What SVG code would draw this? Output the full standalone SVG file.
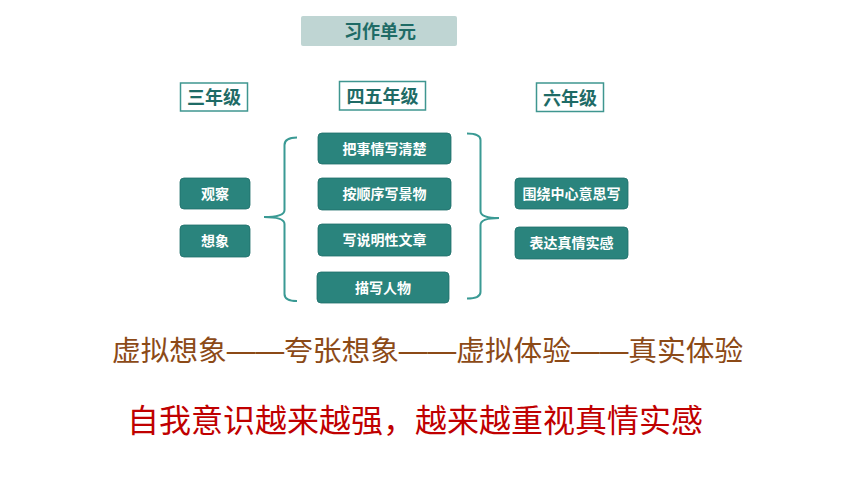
<svg xmlns="http://www.w3.org/2000/svg" width="860" height="484" viewBox="0 0 860 484">
<style>
.box{fill:#2a847d;stroke:#1f6f69;stroke-width:0.8}
.bt{fill:#ffffff;font-family:"Noto Sans CJK SC",sans-serif;font-weight:bold;font-size:14px;text-anchor:middle}
.lbl{fill:#ffffff;stroke:#3f9690;stroke-width:1.5}
.lt{fill:#1e6b66;font-family:"Noto Sans CJK SC",sans-serif;font-weight:bold;font-size:18px;text-anchor:middle}
.brace{fill:none;stroke:#3a9a94;stroke-width:2}
</style>
<rect width="860" height="484" fill="#ffffff"/>
<g id="title">
<rect x="301" y="16" width="156" height="30" rx="2" fill="#bfd5d3"/>
<text class="lt" x="380" y="38">习作单元</text>
</g>
<g id="grade3">
<rect class="lbl" x="180.5" y="83" width="67" height="28"/>
<text class="lt" x="214" y="104">三年级</text>
</g>
<g id="grade45">
<rect class="lbl" x="339.5" y="81.5" width="86" height="28.5"/>
<text class="lt" x="382.5" y="103">四五年级</text>
</g>
<g id="grade6">
<rect class="lbl" x="536.5" y="83" width="67" height="28.5"/>
<text class="lt" x="570" y="104.5">六年级</text>
</g>
<g id="n-guancha">
<rect class="box" x="180" y="178" width="70" height="31" rx="4"/>
<text class="bt" x="215" y="198.5">观察</text>
</g>
<g id="n-xiangxiang">
<rect class="box" x="180" y="225" width="70" height="32" rx="4"/>
<text class="bt" x="215" y="246">想象</text>
</g>
<g id="n-bashi">
<rect class="box" x="318" y="133" width="133" height="31" rx="4"/>
<text class="bt" x="384.5" y="153.5">把事情写清楚</text>
</g>
<g id="n-anshunxu">
<rect class="box" x="318" y="178" width="133" height="32" rx="4"/>
<text class="bt" x="384.5" y="199">按顺序写景物</text>
</g>
<g id="n-shuoming">
<rect class="box" x="318" y="224" width="133" height="32" rx="4"/>
<text class="bt" x="384.5" y="245">写说明性文章</text>
</g>
<g id="n-miaoxie">
<rect class="box" x="317" y="272" width="132" height="31" rx="4"/>
<text class="bt" x="383" y="292.5">描写人物</text>
</g>
<g id="n-weirao">
<rect class="box" x="515" y="178" width="113" height="31" rx="4"/>
<text class="bt" x="571.5" y="198.5">围绕中心意思写</text>
</g>
<g id="n-biaoda">
<rect class="box" x="515" y="227" width="113" height="32" rx="4"/>
<text class="bt" x="571.5" y="248">表达真情实感</text>
</g>
<g id="connectors">
<path class="brace" d="M297,137.5 Q284.5,137.5 284.5,145 L284.5,210 Q284.5,217 264,217 Q284.5,217 284.5,224 L284.5,294 Q284.5,301 297,301"/>
<path class="brace" d="M467,133.5 Q480.5,133.5 480.5,140 L480.5,211 Q480.5,218 499,218 Q480.5,218 480.5,225 L480.5,292 Q480.5,298.5 467,298.5"/>
</g>
<g id="notes">
<text x="112" y="361" font-family="'Liberation Sans', 'Noto Sans CJK SC', sans-serif" font-size="28.7" fill="#8c4a17">虚拟想象——夸张想象——虚拟体验——真实体验</text>
<text x="127" y="432" font-family="'Noto Sans CJK SC', sans-serif" font-size="32" fill="#c00000">自我意识越来越强，越来越重视真情实感</text>
</g>
</svg>
